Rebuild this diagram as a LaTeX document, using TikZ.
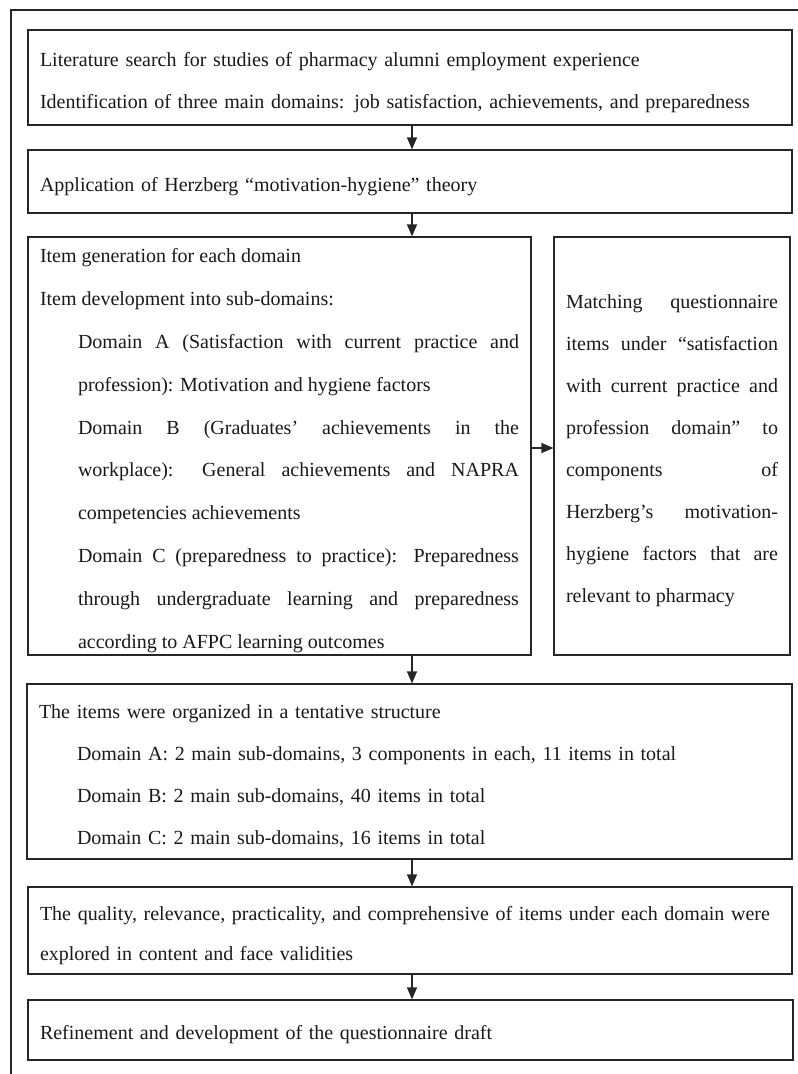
\documentclass[tikz,border=0pt]{standalone}
\usepackage{fontspec}
\setmainfont{Liberation Serif}
\usetikzlibrary{arrows.meta}
\tikzset{
  flowbox/.style={draw=black!85, line width=0.9pt, inner xsep=9pt, inner ysep=0pt,
    font=\fontsize{15}{31.5}\selectfont, text=black!90, anchor=center, text height=17.5pt},
  conn/.style={draw=black!85, line width=0.9pt, -{Triangle[length=9pt,width=7.5pt]}},
  frameline/.style={draw=black!85, line width=0.9pt},
}
\begin{document}
\begin{tikzpicture}[x=0.75pt, y=-0.75pt]
\useasboundingbox (0,0) rectangle (798,1074);
% outer frame (left and top edges visible)
\coordinate (fbl) at (11,1074);
\coordinate (ftl) at (11,10);
\coordinate (ftr) at (798,10);
\draw[frameline] (fbl) -- (ftl) -- (ftr);

\node[flowbox, align=left, minimum width=573pt, text width=555pt, minimum height=71.25pt] (b1) at (410,77.5)
  {Literature search for studies of pharmacy alumni employment experience\\
   Identification of three main domains: job satisfaction, achievements, and preparedness};

\node[flowbox, align=left, minimum width=573pt, text width=555pt, minimum height=47.25pt] (b2) at (410,181.5)
  {Application of Herzberg “motivation-hygiene” theory};

\node[flowbox, align=justify, minimum width=377.25pt, text width=359.25pt, minimum height=313.5pt,
      font=\fontsize{15}{32.2}\selectfont] (b3) at (279.5,446)
  {\parskip=0pt\parindent=0pt
   Item generation for each domain\par
   Item development into sub-domains:\par
   {\leftskip=28.5pt
   Domain A (Satisfaction with current practice and\linebreak
   profession): Motivation and hygiene factors\par
   Domain B (Graduates’ achievements in the\linebreak
   workplace): General achievements and NAPRA\linebreak
   competencies achievements\par
   Domain C (preparedness to practice): Preparedness\linebreak
   through undergraduate learning and preparedness\linebreak
   according to AFPC learning outcomes\par}};

\node[flowbox, align=justify, minimum width=177pt, text width=159pt, minimum height=313.5pt] (b4) at (672,446)
  {\parskip=0pt\parindent=0pt
   Matching questionnaire\linebreak
   items under “satisfaction\linebreak
   with current practice and\linebreak
   profession domain” to\linebreak
   components of\linebreak
   Herzberg’s motivation-\linebreak
   hygiene factors that are\linebreak
   relevant to pharmacy\par};

\node[flowbox, align=left, minimum width=573.75pt, text width=555.75pt, minimum height=131.25pt] (b5) at (409.5,771.5)
  {\parskip=0pt
   The items were organized in a tentative structure\par
   {\leftskip=28.5pt
   Domain A: 2 main sub-domains, 3 components in each, 11 items in total\par
   Domain B: 2 main sub-domains, 40 items in total\par
   Domain C: 2 main sub-domains, 16 items in total\par}};

\node[flowbox, align=left, minimum width=573pt, text width=555pt, minimum height=65.25pt,
      font=\fontsize{15}{30}\selectfont] (b6) at (410,930.5)
  {\makebox[\linewidth][l]{The quality, relevance, practicality, and comprehensive of items under each domain were}\\
   explored in content and face validities};

\node[flowbox, align=left, minimum width=573.75pt, text width=555.75pt, minimum height=45pt] (b7) at (410.5,1030)
  {Refinement and development of the questionnaire draft};

% connectors
\coordinate (ax) at (412,0);
\coordinate (ay) at (0,448);
\draw[conn] (b1.south -| ax) -- (b2.north -| ax);
\draw[conn] (b2.south -| ax) -- (b3.north -| ax);
\draw[conn] (b3.east |- ay) -- (b4.west |- ay);
\draw[conn] (b3.south -| ax) -- (b5.north -| ax);
\draw[conn] (b5.south -| ax) -- (b6.north -| ax);
\draw[conn] (b6.south -| ax) -- (b7.north -| ax);
\end{tikzpicture}
\end{document}
